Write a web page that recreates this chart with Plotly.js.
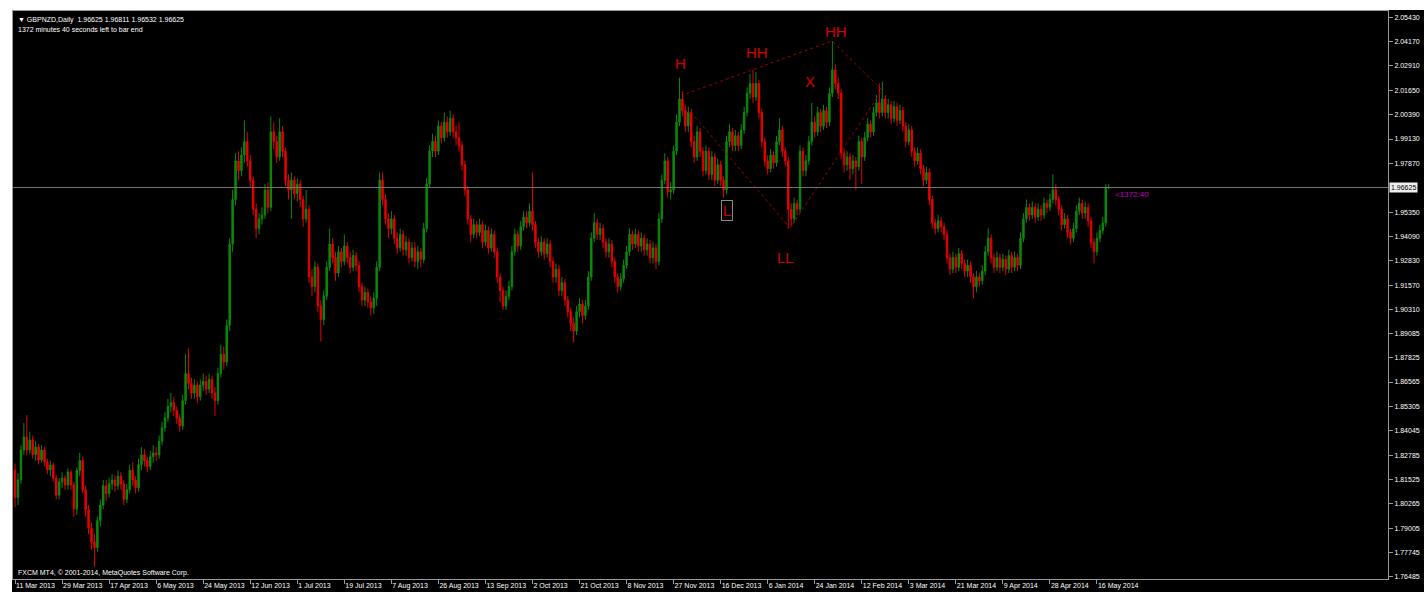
<!DOCTYPE html>
<html>
<head>
<meta charset="utf-8">
<script src="https://cdn.plot.ly/plotly-3.0.1.min.js"></script>
<style>
  html, body { margin: 0; padding: 0; background: #ffffff; }
  #chart { position: absolute; left: 12px; top: 10px; width: 1412px; height: 582px; background: #000000; }
</style>
</head>
<body>
<div id="chart"></div>
<script>
// GBPNZD daily bars (bar 0 = 11 Mar 2013)
const opens = [
  1.8200,1.8060,1.8150,1.8305,1.8372,1.8305,1.8357,1.8281,1.8320,1.8253,
  1.8305,1.8243,1.8202,1.8227,1.8160,1.8072,1.8140,1.8160,1.8124,1.8191,
  1.8124,1.8000,1.8200,1.8250,1.8100,1.7995,1.7900,1.7830,1.7800,1.7940,
  1.8020,1.8120,1.8080,1.8130,1.8150,1.8120,1.8170,1.8130,1.8050,1.8100,
  1.8200,1.8150,1.8110,1.8230,1.8280,1.8250,1.8220,1.8270,1.8290,1.8280,
  1.8350,1.8420,1.8470,1.8530,1.8550,1.8510,1.8470,1.8430,1.8560,1.8700,
  1.8650,1.8600,1.8640,1.8580,1.8640,1.8660,1.8620,1.8670,1.8600,1.8560,
  1.8700,1.8800,1.8760,1.8950,1.9370,1.9600,1.9800,1.9750,1.9830,1.9900,
  1.9800,1.9700,1.9550,1.9450,1.9500,1.9520,1.9650,1.9560,1.9950,1.9900,
  1.9820,1.9950,1.9850,1.9700,1.9650,1.9700,1.9630,1.9680,1.9600,1.9500,
  1.9550,1.9200,1.9150,1.9250,1.9050,1.8980,1.9100,1.9250,1.9370,1.9300,
  1.9220,1.9330,1.9280,1.9360,1.9300,1.9250,1.9310,1.9260,1.9150,1.9080,
  1.9120,1.9070,1.9040,1.9090,1.9250,1.9700,1.9600,1.9500,1.9450,1.9500,
  1.9400,1.9350,1.9420,1.9340,1.9380,1.9300,1.9350,1.9280,1.9330,1.9290,
  1.9450,1.9680,1.9850,1.9900,1.9850,1.9980,1.9920,2.0000,1.9950,2.0020,
  1.9950,1.9920,1.9880,1.9780,1.9650,1.9500,1.9420,1.9470,1.9430,1.9470,
  1.9380,1.9440,1.9350,1.9420,1.9330,1.9200,1.9130,1.9050,1.9100,1.9150,
  1.9330,1.9420,1.9360,1.9460,1.9510,1.9480,1.9540,1.9470,1.9380,1.9330,
  1.9380,1.9320,1.9370,1.9280,1.9200,1.9240,1.9130,1.9170,1.9080,1.9020,
  1.8960,1.8920,1.9020,1.9060,1.9000,1.9050,1.9200,1.9400,1.9480,1.9420,
  1.9450,1.9380,1.9330,1.9370,1.9280,1.9200,1.9150,1.9190,1.9260,1.9330,
  1.9420,1.9370,1.9420,1.9360,1.9400,1.9340,1.9370,1.9300,1.9350,1.9280,
  1.9500,1.9700,1.9800,1.9640,1.9650,1.9850,2.0000,2.0120,2.0060,1.9980,
  2.0050,1.9900,1.9820,1.9950,1.9850,1.9750,1.9850,1.9730,1.9820,1.9700,
  1.9780,1.9700,1.9650,1.9900,1.9950,1.9880,1.9930,1.9880,1.9960,2.0050,
  2.0150,2.0200,2.0130,2.0200,2.0050,1.9900,1.9800,1.9760,1.9830,1.9790,
  1.9900,1.9960,1.9850,1.9800,1.9550,1.9500,1.9580,1.9550,1.9850,1.9750,
  1.9800,1.9900,2.0000,1.9950,2.0050,1.9980,2.0060,2.0000,2.0150,2.0270,
  2.0200,2.0150,1.9840,1.9780,1.9820,1.9760,1.9800,1.9770,1.9900,1.9820,
  1.9920,1.9990,1.9950,2.0050,2.0100,2.0050,2.0120,2.0050,2.0090,2.0020,
  2.0080,2.0010,2.0060,1.9980,1.9900,1.9960,1.9850,1.9800,1.9840,1.9760,
  1.9700,1.9740,1.9600,1.9480,1.9450,1.9490,1.9460,1.9420,1.9300,1.9240,
  1.9300,1.9250,1.9320,1.9270,1.9230,1.9260,1.9200,1.9150,1.9200,1.9180,
  1.9230,1.9330,1.9400,1.9300,1.9250,1.9300,1.9250,1.9290,1.9240,1.9310,
  1.9250,1.9300,1.9260,1.9400,1.9500,1.9560,1.9520,1.9560,1.9510,1.9550,
  1.9520,1.9580,1.9560,1.9600,1.9650,1.9600,1.9550,1.9470,1.9500,1.9430,
  1.9400,1.9450,1.9540,1.9580,1.9530,1.9560,1.9490,1.9380,1.9330,1.9400,
  1.9440,1.9480,1.96625
];
const highs = [
  1.8235,1.8185,1.8330,1.8445,1.8486,1.8400,1.8380,1.8350,1.8335,1.8330,
  1.8320,1.8260,1.8250,1.8240,1.8175,1.8160,1.8190,1.8175,1.8210,1.8200,
  1.8140,1.8215,1.8290,1.8270,1.8120,1.8020,1.7930,1.7870,1.7960,1.8050,
  1.8150,1.8150,1.8160,1.8180,1.8175,1.8200,1.8190,1.8150,1.8130,1.8230,
  1.8240,1.8170,1.8260,1.8320,1.8310,1.8270,1.8300,1.8330,1.8320,1.8380,
  1.8450,1.8500,1.8570,1.8600,1.8580,1.8530,1.8490,1.8590,1.8800,1.8830,
  1.8680,1.8670,1.8660,1.8670,1.8700,1.8690,1.8700,1.8690,1.8630,1.8730,
  1.8850,1.8840,1.8980,1.9400,1.9650,1.9840,1.9850,1.9870,2.0010,1.9950,
  1.9830,1.9720,1.9580,1.9530,1.9560,1.9680,1.9690,2.0030,2.0000,1.9930,
  2.0020,1.9980,1.9870,1.9730,1.9740,1.9720,1.9710,1.9700,1.9620,1.9650,
  1.9570,1.9240,1.9280,1.9270,1.9080,1.9130,1.9280,1.9450,1.9400,1.9330,
  1.9360,1.9350,1.9420,1.9380,1.9330,1.9340,1.9330,1.9280,1.9170,1.9150,
  1.9140,1.9100,1.9120,1.9280,1.9740,1.9740,1.9630,1.9530,1.9540,1.9520,
  1.9430,1.9450,1.9440,1.9410,1.9400,1.9380,1.9380,1.9360,1.9350,1.9480,
  1.9710,1.9880,1.9940,1.9930,2.0010,2.0000,2.0050,2.0030,2.0060,2.0040,
  1.9980,2.0000,1.9900,1.9800,1.9670,1.9520,1.9500,1.9490,1.9500,1.9490,
  1.9470,1.9460,1.9450,1.9440,1.9350,1.9220,1.9150,1.9130,1.9180,1.9360,
  1.9450,1.9440,1.9490,1.9540,1.9540,1.9580,1.9740,1.9490,1.9400,1.9410,
  1.9400,1.9400,1.9390,1.9300,1.9270,1.9260,1.9200,1.9190,1.9100,1.9040,
  1.8990,1.9050,1.9090,1.9080,1.9080,1.9230,1.9430,1.9530,1.9500,1.9480,
  1.9470,1.9400,1.9400,1.9390,1.9300,1.9220,1.9220,1.9290,1.9360,1.9450,
  1.9440,1.9450,1.9440,1.9430,1.9420,1.9400,1.9390,1.9380,1.9370,1.9530,
  1.9730,1.9840,1.9820,1.9690,1.9880,2.0040,2.0230,2.0160,2.0090,2.0080,
  2.0070,1.9930,1.9980,1.9970,1.9870,1.9880,1.9870,1.9850,1.9840,1.9810,
  1.9800,1.9720,1.9930,1.9990,1.9970,1.9960,1.9950,1.9990,2.0080,2.0180,
  2.0250,2.0270,2.0260,2.0220,2.0070,1.9920,1.9830,1.9860,1.9850,1.9930,
  2.0020,1.9980,1.9870,1.9820,1.9580,1.9610,1.9600,1.9880,1.9870,1.9830,
  1.9930,2.0100,2.0030,2.0080,2.0070,2.0090,2.0080,2.0180,2.0420,2.0300,
  2.0230,2.0170,1.9860,1.9850,1.9840,1.9830,1.9820,1.9930,1.9920,1.9950,
  2.0020,2.0010,2.0080,2.0140,2.0200,2.0210,2.0140,2.0120,2.0110,2.0110,
  2.0100,2.0090,2.0080,2.0000,1.9990,1.9980,1.9870,1.9870,1.9860,1.9780,
  1.9770,1.9760,1.9620,1.9500,1.9520,1.9510,1.9480,1.9440,1.9320,1.9330,
  1.9320,1.9350,1.9340,1.9290,1.9290,1.9280,1.9220,1.9230,1.9220,1.9260,
  1.9360,1.9450,1.9420,1.9320,1.9330,1.9320,1.9320,1.9310,1.9340,1.9330,
  1.9330,1.9320,1.9430,1.9530,1.9600,1.9580,1.9590,1.9580,1.9580,1.9570,
  1.9610,1.9600,1.9630,1.9730,1.9680,1.9620,1.9570,1.9530,1.9520,1.9450,
  1.9480,1.9570,1.9610,1.9600,1.9590,1.9580,1.9510,1.9400,1.9430,1.9470,
  1.9510,1.9680,1.96811
];
const lows = [
  1.8010,1.8020,1.8130,1.8280,1.8280,1.8285,1.8260,1.8250,1.8230,1.8240,
  1.8220,1.8180,1.8170,1.8140,1.8050,1.8050,1.8110,1.8100,1.8100,1.8100,
  1.7960,1.7970,1.8170,1.8080,1.7960,1.7870,1.7790,1.7700,1.7780,1.7910,
  1.8000,1.8040,1.8060,1.8100,1.8090,1.8100,1.8100,1.8020,1.8030,1.8080,
  1.8120,1.8080,1.8090,1.8200,1.8220,1.8190,1.8200,1.8240,1.8250,1.8260,
  1.8330,1.8400,1.8450,1.8500,1.8480,1.8440,1.8400,1.8410,1.8540,1.8620,
  1.8570,1.8570,1.8550,1.8560,1.8610,1.8590,1.8600,1.8570,1.8480,1.8540,
  1.8680,1.8720,1.8740,1.8920,1.9330,1.9570,1.9700,1.9720,1.9790,1.9770,
  1.9660,1.9520,1.9400,1.9420,1.9470,1.9500,1.9530,1.9540,1.9860,1.9790,
  1.9800,1.9820,1.9670,1.9600,1.9500,1.9600,1.9590,1.9560,1.9460,1.9480,
  1.9170,1.9100,1.9120,1.9020,1.8866,1.8950,1.9080,1.9230,1.9270,1.9180,
  1.9200,1.9250,1.9260,1.9270,1.9220,1.9230,1.9230,1.9120,1.9050,1.9050,
  1.9040,1.9000,1.9010,1.9050,1.9230,1.9570,1.9470,1.9400,1.9420,1.9370,
  1.9320,1.9330,1.9310,1.9310,1.9270,1.9280,1.9250,1.9240,1.9250,1.9270,
  1.9430,1.9660,1.9820,1.9820,1.9830,1.9890,1.9900,1.9920,1.9930,1.9920,
  1.9880,1.9850,1.9750,1.9620,1.9470,1.9380,1.9400,1.9400,1.9410,1.9350,
  1.9360,1.9320,1.9330,1.9300,1.9170,1.9070,1.9030,1.9030,1.9080,1.9130,
  1.9310,1.9330,1.9340,1.9440,1.9450,1.9460,1.9440,1.9350,1.9300,1.9310,
  1.9290,1.9300,1.9250,1.9170,1.9170,1.9100,1.9100,1.9050,1.8990,1.8920,
  1.8860,1.8900,1.8990,1.8960,1.8980,1.9030,1.9180,1.9380,1.9390,1.9390,
  1.9350,1.9300,1.9300,1.9250,1.9170,1.9120,1.9130,1.9170,1.9240,1.9310,
  1.9340,1.9350,1.9330,1.9330,1.9310,1.9310,1.9270,1.9270,1.9240,1.9260,
  1.9480,1.9680,1.9610,1.9600,1.9630,1.9830,1.9980,2.0030,1.9950,1.9950,
  1.9870,1.9790,1.9800,1.9820,1.9720,1.9730,1.9700,1.9700,1.9670,1.9680,
  1.9670,1.9610,1.9630,1.9870,1.9850,1.9850,1.9850,1.9860,1.9940,2.0030,
  2.0120,2.0100,2.0110,2.0020,1.9870,1.9770,1.9730,1.9740,1.9760,1.9770,
  1.9880,1.9820,1.9770,1.9450,1.9460,1.9480,1.9520,1.9530,1.9720,1.9720,
  1.9780,1.9880,1.9920,1.9930,1.9950,1.9960,1.9970,1.9980,2.0130,2.0170,
  2.0120,1.9810,1.9740,1.9750,1.9700,1.9730,1.9650,1.9750,1.9680,1.9800,
  1.9900,1.9920,1.9930,2.0030,2.0020,2.0030,2.0020,2.0020,1.9990,2.0000,
  1.9980,1.9990,1.9950,1.9870,1.9880,1.9820,1.9770,1.9780,1.9730,1.9670,
  1.9680,1.9570,1.9450,1.9420,1.9430,1.9430,1.9390,1.9270,1.9210,1.9220,
  1.9220,1.9230,1.9240,1.9200,1.9200,1.9170,1.9090,1.9120,1.9150,1.9160,
  1.9210,1.9310,1.9270,1.9220,1.9230,1.9220,1.9230,1.9210,1.9220,1.9220,
  1.9230,1.9230,1.9240,1.9380,1.9480,1.9490,1.9500,1.9480,1.9490,1.9490,
  1.9500,1.9530,1.9540,1.9580,1.9570,1.9520,1.9440,1.9450,1.9400,1.9370,
  1.9380,1.9430,1.9520,1.9500,1.9500,1.9460,1.9350,1.9270,1.9310,1.9380,
  1.9420,1.9460,1.96532
];
const closes = [
  1.8060,1.8150,1.8305,1.8372,1.8305,1.8357,1.8281,1.8320,1.8253,1.8305,
  1.8243,1.8202,1.8227,1.8160,1.8072,1.8140,1.8160,1.8124,1.8191,1.8124,
  1.8000,1.8200,1.8250,1.8100,1.7995,1.7900,1.7830,1.7800,1.7940,1.8020,
  1.8120,1.8080,1.8130,1.8150,1.8120,1.8170,1.8130,1.8050,1.8100,1.8200,
  1.8150,1.8110,1.8230,1.8280,1.8250,1.8220,1.8270,1.8290,1.8280,1.8350,
  1.8420,1.8470,1.8530,1.8550,1.8510,1.8470,1.8430,1.8560,1.8700,1.8650,
  1.8600,1.8640,1.8580,1.8640,1.8660,1.8620,1.8670,1.8600,1.8560,1.8700,
  1.8800,1.8760,1.8950,1.9370,1.9600,1.9800,1.9750,1.9830,1.9900,1.9800,
  1.9700,1.9550,1.9450,1.9500,1.9520,1.9650,1.9560,1.9950,1.9900,1.9820,
  1.9950,1.9850,1.9700,1.9650,1.9700,1.9630,1.9680,1.9600,1.9500,1.9550,
  1.9200,1.9150,1.9250,1.9050,1.8980,1.9100,1.9250,1.9370,1.9300,1.9220,
  1.9330,1.9280,1.9360,1.9300,1.9250,1.9310,1.9260,1.9150,1.9080,1.9120,
  1.9070,1.9040,1.9090,1.9250,1.9700,1.9600,1.9500,1.9450,1.9500,1.9400,
  1.9350,1.9420,1.9340,1.9380,1.9300,1.9350,1.9280,1.9330,1.9290,1.9450,
  1.9680,1.9850,1.9900,1.9850,1.9980,1.9920,2.0000,1.9950,2.0020,1.9950,
  1.9920,1.9880,1.9780,1.9650,1.9500,1.9420,1.9470,1.9430,1.9470,1.9380,
  1.9440,1.9350,1.9420,1.9330,1.9200,1.9130,1.9050,1.9100,1.9150,1.9330,
  1.9420,1.9360,1.9460,1.9510,1.9480,1.9540,1.9470,1.9380,1.9330,1.9380,
  1.9320,1.9370,1.9280,1.9200,1.9240,1.9130,1.9170,1.9080,1.9020,1.8960,
  1.8920,1.9020,1.9060,1.9000,1.9050,1.9200,1.9400,1.9480,1.9420,1.9450,
  1.9380,1.9330,1.9370,1.9280,1.9200,1.9150,1.9190,1.9260,1.9330,1.9420,
  1.9370,1.9420,1.9360,1.9400,1.9340,1.9370,1.9300,1.9350,1.9280,1.9500,
  1.9700,1.9800,1.9640,1.9650,1.9850,2.0000,2.0120,2.0060,1.9980,2.0050,
  1.9900,1.9820,1.9950,1.9850,1.9750,1.9850,1.9730,1.9820,1.9700,1.9780,
  1.9700,1.9650,1.9900,1.9950,1.9880,1.9930,1.9880,1.9960,2.0050,2.0150,
  2.0200,2.0130,2.0200,2.0050,1.9900,1.9800,1.9760,1.9830,1.9790,1.9900,
  1.9960,1.9850,1.9800,1.9550,1.9500,1.9580,1.9550,1.9850,1.9750,1.9800,
  1.9900,2.0000,1.9950,2.0050,1.9980,2.0060,2.0000,2.0150,2.0270,2.0200,
  2.0150,1.9840,1.9780,1.9820,1.9760,1.9800,1.9770,1.9900,1.9820,1.9920,
  1.9990,1.9950,2.0050,2.0100,2.0050,2.0120,2.0050,2.0090,2.0020,2.0080,
  2.0010,2.0060,1.9980,1.9900,1.9960,1.9850,1.9800,1.9840,1.9760,1.9700,
  1.9740,1.9600,1.9480,1.9450,1.9490,1.9460,1.9420,1.9300,1.9240,1.9300,
  1.9250,1.9320,1.9270,1.9230,1.9260,1.9200,1.9150,1.9200,1.9180,1.9230,
  1.9330,1.9400,1.9300,1.9250,1.9300,1.9250,1.9290,1.9240,1.9310,1.9250,
  1.9300,1.9260,1.9400,1.9500,1.9560,1.9520,1.9560,1.9510,1.9550,1.9520,
  1.9580,1.9560,1.9600,1.9650,1.9600,1.9550,1.9470,1.9500,1.9430,1.9400,
  1.9450,1.9540,1.9580,1.9530,1.9560,1.9490,1.9380,1.9330,1.9400,1.9440,
  1.9480,1.96625,1.96625
];

const lastPrice = 1.96625;

// date labels along the bottom, one every 16 bars
const dateLabels = ['11 Mar 2013','29 Mar 2013','17 Apr 2013','6 May 2013','24 May 2013','12 Jun 2013',
  '1 Jul 2013','19 Jul 2013','7 Aug 2013','26 Aug 2013','13 Sep 2013','2 Oct 2013','21 Oct 2013',
  '8 Nov 2013','27 Nov 2013','16 Dec 2013','6 Jan 2014','24 Jan 2014','12 Feb 2014','3 Mar 2014',
  '21 Mar 2014','9 Apr 2014','28 Apr 2014','16 May 2014'];

// price scale labels on the right
const priceTicks = [2.05430,2.04170,2.02910,2.01650,2.00390,1.99130,1.97870,1.95350,1.94090,1.92830,
  1.91570,1.90310,1.89085,1.87825,1.86565,1.85305,1.84045,1.82785,1.81525,1.80265,1.79005,1.77745,1.76485];

// hand-drawn swing labels and the dotted outline (bar index, price)
const swingText  = ['H', 'HH', 'HH', 'X', 'L', 'LL'];
const swingBar   = [226.2, 252.4, 279.3, 270.4, 242.2, 262.2];
const swingPrice = [2.0301, 2.0363, 2.0471, 2.0208, 1.9541, 1.9298];
const outlineBar   = [231.3, 263.6, 294.9, 277.9, 227.2];
const outlinePrice = [2.0027, 1.9453, 2.0166, 2.0420, 2.0141];

const bars = closes.map((_, i) => i);
const bull = '#0a8a0a';
const bear = '#e60000';
const frame = '#9a9a9a';

const candles = {
  type: 'candlestick',
  x: bars, open: opens, high: highs, low: lows, close: closes,
  increasing: { line: { color: bull, width: 1 }, fillcolor: bull },
  decreasing: { line: { color: bear, width: 1 }, fillcolor: bear },
  hoverinfo: 'skip',
};

const outline = {
  type: 'scatter', mode: 'lines',
  x: outlineBar, y: outlinePrice,
  line: { color: '#a00000', width: 1, dash: 'dot' },
  hoverinfo: 'skip',
};

const swingNotes = swingText.map((t, i) => ({
  x: swingBar[i], y: swingPrice[i], xref: 'x', yref: 'y',
  text: t, showarrow: false,
  font: { family: 'Liberation Sans, Arial, sans-serif', size: 15, color: '#d40000' },
  bordercolor: t === 'L' ? '#8a8a8a' : 'rgba(0,0,0,0)', borderwidth: 1, borderpad: 1,
}));

const smallFont = { family: 'Liberation Sans, Arial, sans-serif', size: 7, color: '#ffffff' };

const layout = {
  width: 1412, height: 582,
  margin: { l: 1, r: 36, t: 1, b: 13 },
  paper_bgcolor: '#000000',
  plot_bgcolor: '#000000',
  showlegend: false,
  dragmode: false,
  hovermode: false,
  xaxis: {
    range: [-0.7, 467],
    rangeslider: { visible: false },
    showgrid: false, zeroline: false,
    showline: true, linecolor: frame, linewidth: 1, mirror: true,
    ticks: 'outside', ticklen: 4, tickcolor: frame,
    tickvals: dateLabels.map((_, k) => k * 16),
    ticktext: dateLabels,
    tickangle: 0,
    ticklabelposition: 'outside right',
    tickfont: smallFont,
  },
  yaxis: {
    side: 'right',
    range: [1.7638, 2.0575],
    showgrid: false, zeroline: false,
    showline: true, linecolor: frame, linewidth: 1, mirror: true,
    ticks: 'outside', ticklen: 4, tickcolor: frame,
    tickvals: priceTicks,
    ticktext: priceTicks.map(v => v.toFixed(5)),
    tickfont: smallFont,
  },
  shapes: [{
    type: 'line', xref: 'paper', x0: 0, x1: 1, yref: 'y', y0: lastPrice, y1: lastPrice,
    line: { color: '#767676', width: 1 },
  }],
  annotations: [
    { xref: 'paper', yref: 'paper', x: 0, y: 1, xanchor: 'left', yanchor: 'top', xshift: 3, yshift: -3,
      text: '\u25BC GBPNZD,Daily  1.96625 1.96811 1.96532 1.96625', showarrow: false, font: smallFont },
    { xref: 'paper', yref: 'paper', x: 0, y: 1, xanchor: 'left', yanchor: 'top', xshift: 3, yshift: -13,
      text: '1372 minutes 40 seconds left to bar end', showarrow: false, font: smallFont },
    { xref: 'paper', yref: 'paper', x: 0, y: 0, xanchor: 'left', yanchor: 'bottom', xshift: 3, yshift: 0,
      text: 'FXCM MT4, \u00A9 2001-2014, MetaQuotes Software Corp.', showarrow: false, font: smallFont },
    { xref: 'paper', yref: 'y', x: 1, y: lastPrice, xanchor: 'left', yanchor: 'middle', xshift: 1,
      text: lastPrice.toFixed(5), showarrow: false, bgcolor: '#eeeeee', borderpad: 1,
      font: { family: 'Liberation Sans, Arial, sans-serif', size: 7, color: '#000000' } },
    { xref: 'x', yref: 'y', x: closes.length + 0.3, y: lastPrice, xanchor: 'left', yanchor: 'top', yshift: -1,
      text: '<1372:40', showarrow: false,
      font: { family: 'Liberation Sans, Arial, sans-serif', size: 8, color: '#c000c0' } },
    ...swingNotes,
  ],
};

const config = { staticPlot: true, displayModeBar: false, responsive: false };

Plotly.newPlot('chart', [candles, outline], layout, config);
</script>
</body>
</html>
